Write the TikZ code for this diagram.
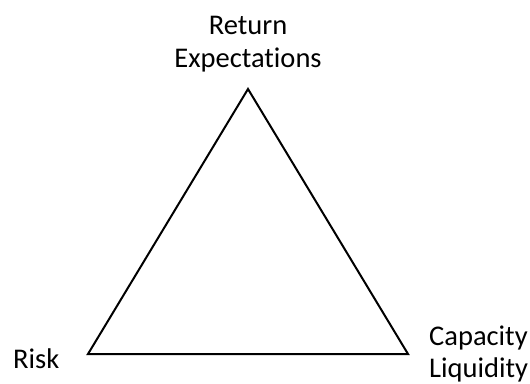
\documentclass[tikz,border=0pt]{standalone}
\usepackage{fontspec}
\setmainfont{Carlito}[Ligatures=NoCommon]
\usetikzlibrary{positioning}

\tikzset{
    label text/.style = {font=\fontsize{28.5}{34}\selectfont, inner sep=0pt},
}

\begin{document}
\begin{tikzpicture}[x=1pt, y=-1pt]
        \useasboundingbox (0,0) rectangle (530,383);

        %三角形の頂点
        \coordinate (top) at (248,89);
        \coordinate (left) at (88,354);
        \coordinate (right) at (408,354);

        \draw[line width = 2pt, line join = miter] (top)--(right)--(left)--cycle; %三角形

        %ラベル
        \node[label text, anchor=base] (return) at (248,34) {Return};
        \node[label text, anchor=base] (expect) at (248,67) {Expectations};
        \node[label text, anchor=base west] (risk) at (13,368) {Risk};
        \node[label text, anchor=base west] (capacity) at (429,345) {Capacity};
        \node[label text, anchor=base west] (liquidity) at (429,377) {Liquidity};
    \end{tikzpicture}
\end{document}
